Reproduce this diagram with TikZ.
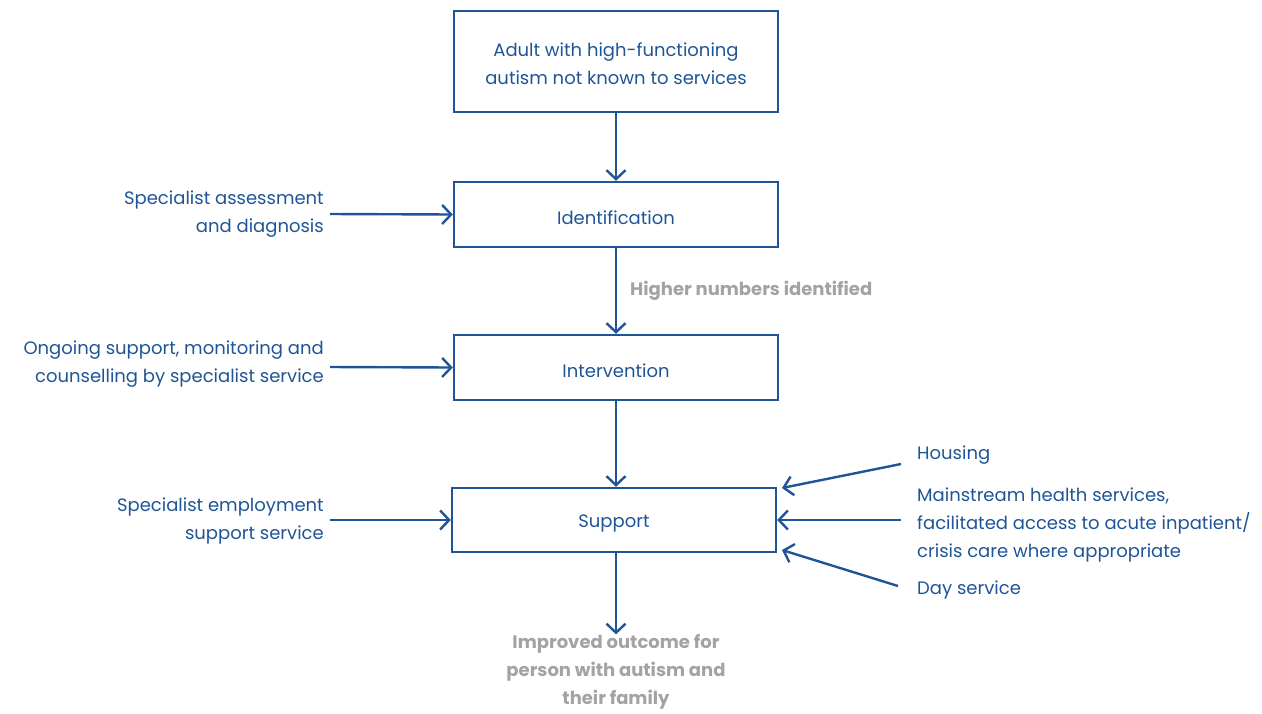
\documentclass[tikz,border=0pt]{standalone}
\usepackage{fontspec}
\setmainfont{Poppins}
\usetikzlibrary{arrows.meta}
\definecolor{navy}{HTML}{1F5596}
\definecolor{greytext}{HTML}{A3A3A3}
\newcommand{\lowertext}[1]{\raisebox{-3pt}[\height][\depth]{#1}}
\begin{document}
\begin{tikzpicture}[x=1pt,y=-1pt,
  box/.style={draw=navy,line width=2.4pt,text=navy,align=center,inner sep=0pt,font=\fontsize{18}{28}\selectfont},
  lbl/.style={text=navy,inner sep=0pt,font=\fontsize{18}{28}\selectfont},
  grey/.style={text=greytext,inner sep=0pt,font=\fontsize{18}{28}\selectfont\bfseries},
  conn/.style={draw=navy,line width=2.4pt,-{Straight Barb[length=9pt,width=19pt,line width=2.4pt]}}]
\useasboundingbox (0,0) rectangle (1262,713);
\node[box,minimum width=324pt,minimum height=101pt] (top) at (616,61.5) {\lowertext{\begin{tabular}{@{}c@{}}Adult with high-functioning\\autism not known to services\end{tabular}}};
\node[box,minimum width=324pt,minimum height=65pt] (ident) at (616,214.5) {\lowertext{Identification}};
\node[box,minimum width=324pt,minimum height=65pt] (interv) at (616,367.5) {\lowertext{Intervention}};
\node[box,minimum width=324pt,minimum height=64pt] (supp) at (614,520) {\lowertext{Support}};
\node[lbl,align=right,anchor=east] (assess) at (324,214) {Specialist assessment\\and diagnosis};
\node[lbl,align=right,anchor=east] (ongoing) at (324,364) {Ongoing support, monitoring and\\counselling by specialist service};
\node[lbl,align=right,anchor=east] (employ) at (324,521) {Specialist employment\\support service};
\node[lbl,anchor=west] (housing) at (917,455) {Housing};
\node[lbl,align=left,anchor=west] (mainstream) at (917,525) {Mainstream health services,\\facilitated access to acute inpatient/\\crisis care where appropriate};
\node[lbl,anchor=west] (day) at (917,590) {Day service};
\node[grey,anchor=west] (higher) at (630,291) {Higher numbers identified};
\node[grey,align=center] (outcome) at (616,672) {Improved outcome for\\person with autism and\\their family};
\draw[conn] (top.south) -- (ident.north);
\draw[conn] (ident.south) -- (interv.north);
\draw[conn] (interv.south) -- (interv.south |- supp.north);
\draw[conn] (interv.south |- supp.south) -- (outcome.north);
\coordinate (a1) at (330,214);
\coordinate (a2) at (330,367);
\coordinate (a3) at (330,520);
\draw[conn] (a1) -- (ident.west);
\draw[conn] (a2) -- (interv.west);
\draw[conn] (a3) -- (supp.west);
\coordinate (h1) at (901,464);
\coordinate (h2) at (782,488);
\coordinate (m1) at (901,520);
\coordinate (d1) at (898,586);
\coordinate (d2) at (782,550);
\draw[conn] (h1) -- (h2);
\draw[conn] (m1) -- (supp.east);
\draw[conn] (d1) -- (d2);
\end{tikzpicture}
\end{document}
